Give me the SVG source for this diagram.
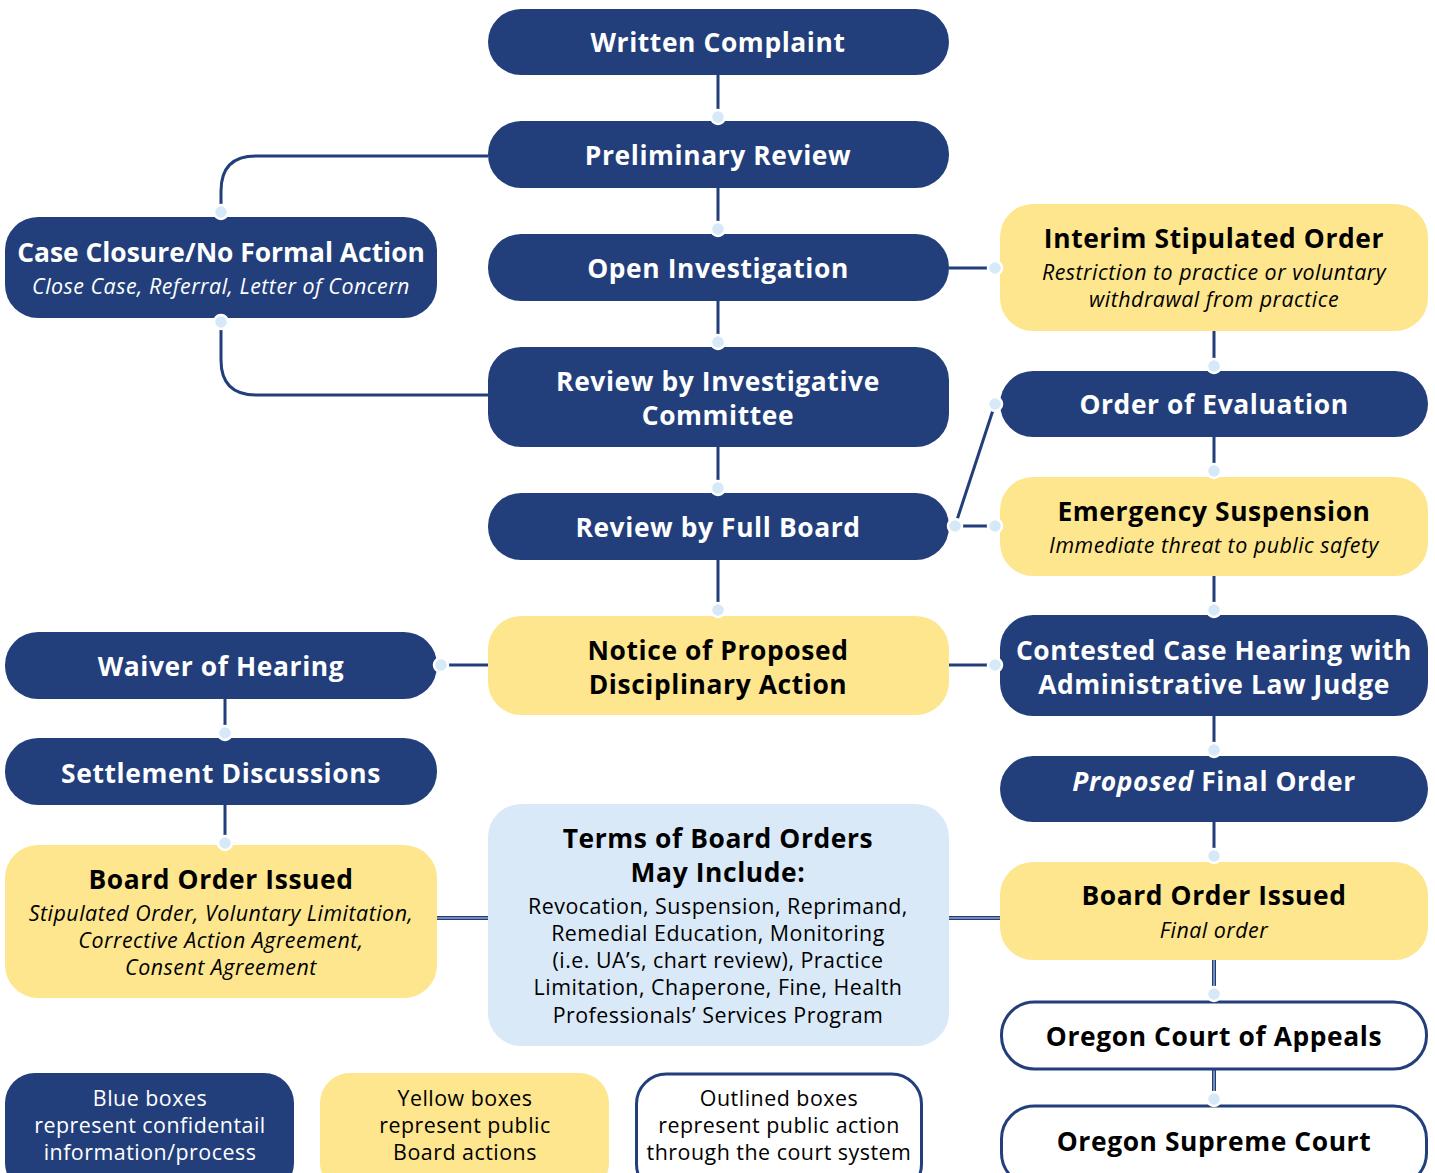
<svg xmlns="http://www.w3.org/2000/svg" width="1435" height="1173" viewBox="0 0 1435 1173">
<style>
.blue{fill:#223f7c}
.yel{fill:#fde68e}
.lb{fill:#d9e9f8}
.out{fill:#fff;stroke:#223f7c;stroke-width:3}
.t{font-family:"Open Sans","Noto Sans","Liberation Sans",sans-serif;font-weight:700;font-size:26.4px;letter-spacing:0.6px;text-anchor:middle}
.w{fill:#fff}
.k{fill:#000}
.i{font-family:"Open Sans","Noto Sans","Liberation Sans",sans-serif;font-style:italic;font-size:21.4px;letter-spacing:0.5px;text-anchor:middle}
.r{font-family:"Open Sans","Noto Sans","Liberation Sans",sans-serif;font-size:21.4px;letter-spacing:0.5px;text-anchor:middle}
.ln{fill:none;stroke:#223f7c;stroke-width:3}
.dl{fill:none;stroke:#223f7c;stroke-width:4}
.dli{fill:none;stroke:#c9d6ea;stroke-width:1}
.dot{fill:#d6e9f8;stroke:#fff;stroke-width:2.5}
</style>
<rect width="1435" height="1173" fill="#fff"/>
<g id="connectors">
<path class="ln" d="M718 75V117M718 188V229M718 301V342M718 447V488M718 560V610"/>
<path class="ln" d="M488 156H256Q221 156 221 191V212"/>
<path class="ln" d="M221 322V360Q221 395 256 395H488"/>
<path class="ln" d="M949 268H995"/>
<path class="ln" d="M1214 331V366M1214 437V471M1214 576V610M1214 716V750M1214 822V856"/>
<path class="ln" d="M955 526L995 404M955 526H995"/>
<path class="ln" d="M441 665H488M949 665H995"/>
<path class="ln" d="M225 699V733M225 805V843"/>
<path class="dl" d="M437 918H488M949 918H1000M1214 960V994M1214 1069V1099"/>
<path class="dli" d="M437 918H488M949 918H1000M1214 960V994M1214 1069V1099"/>
</g>
<g id="written-complaint"><rect class="blue" x="488" y="9" width="461" height="66" rx="33"/><text class="t w" x="718" y="52">Written Complaint</text></g>
<g id="preliminary-review"><rect class="blue" x="488" y="121" width="461" height="67" rx="33"/><text class="t w" x="718" y="165">Preliminary Review</text></g>
<g id="open-investigation"><rect class="blue" x="488" y="234" width="461" height="67" rx="33"/><text class="t w" x="718" y="278">Open Investigation</text></g>
<g id="review-investigative"><rect class="blue" x="488" y="347" width="461" height="100" rx="33"/><text class="t w" x="718" y="391">Review by Investigative</text><text class="t w" x="718" y="424.5">Committee</text></g>
<g id="review-full-board"><rect class="blue" x="488" y="493" width="461" height="67" rx="33"/><text class="t w" x="718" y="537">Review by Full Board</text></g>
<g id="notice-proposed"><rect class="yel" x="488" y="616" width="461" height="99" rx="33"/><text class="t k" x="718" y="660">Notice of Proposed</text><text class="t k" x="718" y="694">Disciplinary Action</text></g>
<g id="terms"><rect class="lb" x="488" y="804" width="461" height="242" rx="33"/><text class="t k" x="718" y="848">Terms of Board Orders</text><text class="t k" x="718" y="882">May Include:</text>
<text class="r k" x="718" y="914">Revocation, Suspension, Reprimand,</text><text class="r k" x="718" y="941">Remedial Education, Monitoring</text><text class="r k" x="718" y="968">(i.e. UA’s, chart review), Practice</text><text class="r k" x="718" y="995">Limitation, Chaperone, Fine, Health</text><text class="r k" x="718" y="1023">Professionals’ Services Program</text></g>
<g id="case-closure"><rect class="blue" x="5" y="217" width="432" height="101" rx="33"/><text class="t w" x="221" y="262" style="letter-spacing:0">Case Closure/No Formal Action</text><text class="i w" x="221" y="294">Close Case, Referral, Letter of Concern</text></g>
<g id="waiver"><rect class="blue" x="5" y="632" width="432" height="67" rx="33"/><text class="t w" x="221" y="676">Waiver of Hearing</text></g>
<g id="settlement"><rect class="blue" x="5" y="738" width="432" height="67" rx="33"/><text class="t w" x="221" y="783">Settlement Discussions</text></g>
<g id="board-order-left"><rect class="yel" x="5" y="845" width="432" height="153" rx="33"/><text class="t k" x="221" y="889">Board Order Issued</text><text class="i k" x="221" y="921">Stipulated Order, Voluntary Limitation,</text><text class="i k" x="221" y="948">Corrective Action Agreement,</text><text class="i k" x="221" y="975">Consent Agreement</text></g>
<g id="interim"><rect class="yel" x="1000" y="204" width="428" height="127" rx="33"/><text class="t k" x="1214" y="248">Interim Stipulated Order</text><text class="i k" x="1214" y="280">Restriction to practice or voluntary</text><text class="i k" x="1214" y="307">withdrawal from practice</text></g>
<g id="order-evaluation"><rect class="blue" x="1000" y="371" width="428" height="66" rx="33"/><text class="t w" x="1214" y="414">Order of Evaluation</text></g>
<g id="emergency"><rect class="yel" x="1000" y="477" width="428" height="99" rx="33"/><text class="t k" x="1214" y="521">Emergency Suspension</text><text class="i k" x="1214" y="553">Immediate threat to public safety</text></g>
<g id="contested"><rect class="blue" x="1000" y="615" width="428" height="101" rx="33"/><text class="t w" x="1214" y="660">Contested Case Hearing with</text><text class="t w" x="1214" y="694">Administrative Law Judge</text></g>
<g id="proposed-final"><rect class="blue" x="1000" y="756" width="428" height="66" rx="33"/><text class="t w" x="1214" y="791"><tspan font-style="italic">Proposed</tspan> Final Order</text></g>
<g id="board-order-right"><rect class="yel" x="1000" y="862" width="428" height="98" rx="33"/><text class="t k" x="1214" y="905">Board Order Issued</text><text class="i k" x="1214" y="938">Final order</text></g>
<g id="court-appeals"><rect class="out" x="1001.5" y="1002" width="425" height="67" rx="33"/><text class="t k" x="1214" y="1046">Oregon Court of Appeals</text></g>
<g id="supreme-court"><rect class="out" x="1001.5" y="1106" width="425" height="80" rx="33"/><text class="t k" x="1214" y="1151">Oregon Supreme Court</text></g>
<g id="dots">
<circle class="dot" cx="718" cy="117" r="7"/><circle class="dot" cx="718" cy="229" r="7"/><circle class="dot" cx="718" cy="342" r="7"/><circle class="dot" cx="718" cy="488" r="7"/><circle class="dot" cx="718" cy="610" r="7"/>
<circle class="dot" cx="221" cy="212" r="7"/><circle class="dot" cx="221" cy="322" r="7"/>
<circle class="dot" cx="995" cy="268" r="7"/><circle class="dot" cx="1214" cy="366" r="7"/><circle class="dot" cx="1214" cy="471" r="7"/>
<circle class="dot" cx="955" cy="526" r="7"/><circle class="dot" cx="995" cy="404" r="7"/><circle class="dot" cx="995" cy="526" r="7"/>
<circle class="dot" cx="1214" cy="610" r="7"/><circle class="dot" cx="441" cy="665" r="7"/><circle class="dot" cx="995" cy="665" r="7"/>
<circle class="dot" cx="1214" cy="750" r="7"/><circle class="dot" cx="1214" cy="856" r="7"/><circle class="dot" cx="1214" cy="994" r="7"/><circle class="dot" cx="1214" cy="1099" r="7"/>
<circle class="dot" cx="225" cy="733" r="7"/><circle class="dot" cx="225" cy="843" r="7"/>
</g>
<g id="legend-blue"><rect class="blue" x="5" y="1073" width="289" height="120" rx="30"/><text class="r w" x="150" y="1106">Blue boxes</text><text class="r w" x="150" y="1133">represent confidentail</text><text class="r w" x="150" y="1160">information/process</text></g>
<g id="legend-yellow"><rect class="yel" x="320" y="1073" width="289" height="120" rx="30"/><text class="r k" x="465" y="1106">Yellow boxes</text><text class="r k" x="465" y="1133">represent public</text><text class="r k" x="465" y="1160">Board actions</text></g>
<g id="legend-outlined"><rect class="out" x="636.5" y="1074" width="285" height="120" rx="30"/><text class="r k" x="779" y="1106">Outlined boxes</text><text class="r k" x="779" y="1133">represent public action</text><text class="r k" x="779" y="1160">through the court system</text></g>
</svg>
